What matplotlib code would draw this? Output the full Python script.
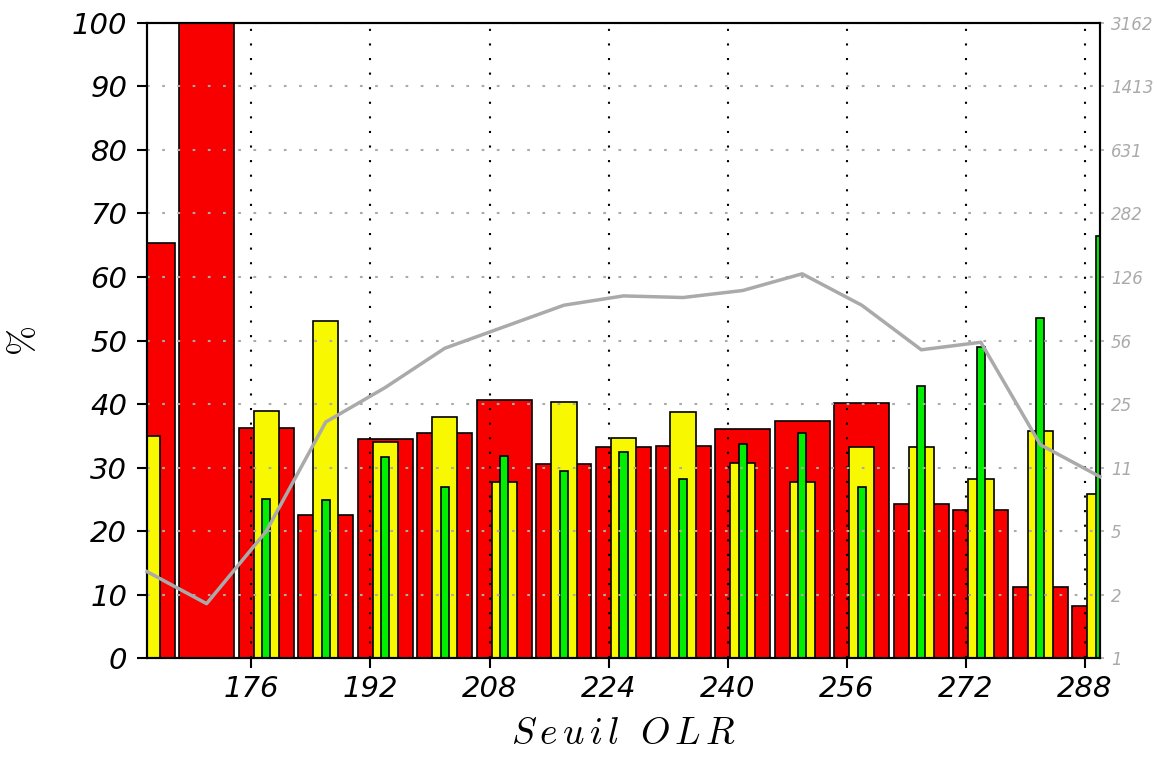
import numpy as np
import matplotlib
matplotlib.use('Agg')
import matplotlib.pyplot as plt
from matplotlib.ticker import FixedLocator, FixedFormatter

# OLR thresholds (bin centres) and the three percentage series
seuils = [162, 170, 178, 186, 194, 202, 210, 218, 226, 234, 242, 250, 258, 266, 274, 282, 290]
pct_red = [65.3, 100.0, 36.3, 22.6, 34.5, 35.4, 40.7, 30.6, 33.3, 33.4, 36.1, 37.3, 40.2, 24.2, 23.3, 11.2, 8.2]
pct_yellow = [35.0, np.nan, 38.9, 53.0, 34.0, 38.0, 27.7, 40.3, 34.7, 38.8, 30.7, 27.7, 33.2, 33.3, 28.2, 35.7, 25.8]
pct_green = [np.nan, np.nan, 25.1, 24.9, 31.7, 26.9, 31.9, 29.5, 32.4, 28.2, 33.7, 35.5, 27.0, 42.8, 49.0, 53.5, 66.5]
# number of cases per threshold (right-hand log axis)
effectifs = [3, 2, 5, 20, 31, 51, 67, 88, 99, 97, 106, 131, 88, 50, 55, 15, 10]

xticks = [176, 192, 208, 224, 240, 256, 272, 288]
yticks = list(range(0, 101, 10))
log_ticks = [10 ** (0.35 * k) for k in range(11)]
log_labels = [str(int(round(v))) for v in log_ticks]

tick_font = dict(family='DejaVu Sans', style='oblique', size=21)
plt.rcParams['mathtext.fontset'] = 'cm'

fig = plt.figure(figsize=(11.57, 7.6), dpi=100)
ax = fig.add_axes([0.1271, 0.1338, 0.9507 - 0.1271, 0.9701 - 0.1338])


def draw_bars(values, width, color):
    x = [s for s, v in zip(seuils, values) if not np.isnan(v)]
    h = [v for v in values if not np.isnan(v)]
    ax.bar(x, h, width=width, color=color, edgecolor='black', linewidth=1.2, zorder=1)


draw_bars(pct_red, 7.4, '#f80000')
draw_bars(pct_yellow, 3.4, '#f8f800')
draw_bars(pct_green, 1.1, '#00ee00')

ax.set_xlim(162, 290)
ax.set_ylim(0, 100)
ax.set_xticks(xticks)
ax.set_yticks(yticks)
ax.set_xticklabels([str(t) for t in xticks], fontdict=tick_font)
ax.set_yticklabels([str(t) for t in yticks], fontdict=tick_font)
ax.tick_params(axis='both', direction='out', length=7.2, width=1.5, color='black')
ax.tick_params(axis='x', pad=5)
ax.tick_params(axis='y', pad=7)

# grid drawn over the bars
ax.set_axisbelow(False)
ax.xaxis.grid(True, color='black', linestyle=(0, (1, 6)), linewidth=1.5)
ax.yaxis.grid(True, color='#aaaaaa', linestyle=(0, (1.3, 6)), linewidth=1.5)

for sp in ax.spines.values():
    sp.set_linewidth(1.5)

ax.set_xlabel(r'$S\,e\,u\,i\,l\ \ O\,L\,R$', fontsize=27, labelpad=9)
ax.set_ylabel(r'$\%$', fontsize=26, labelpad=22)

# right axis: number of cases, log scale
ax2 = ax.twinx()
ax2.set_yscale('log')
ax2.set_ylim(1, 10 ** 3.5)
ax2.yaxis.set_major_locator(FixedLocator(log_ticks))
ax2.yaxis.set_major_formatter(FixedFormatter(log_labels))
ax2.yaxis.set_minor_locator(FixedLocator([]))
ax2.tick_params(axis='y', direction='out', length=3, width=1.2, color='#aaaaaa',
                labelcolor='#aaaaaa', labelsize=12, pad=5)
for lab in ax2.get_yticklabels():
    lab.set_fontstyle('oblique')
for sp in ax2.spines.values():
    sp.set_linewidth(1.5)
ax2.plot(seuils, effectifs, color='#aaaaaa', linewidth=2.5, clip_on=False, zorder=5)
ax2.set_xlim(162, 290)

fig.savefig('out.png', dpi=100)
